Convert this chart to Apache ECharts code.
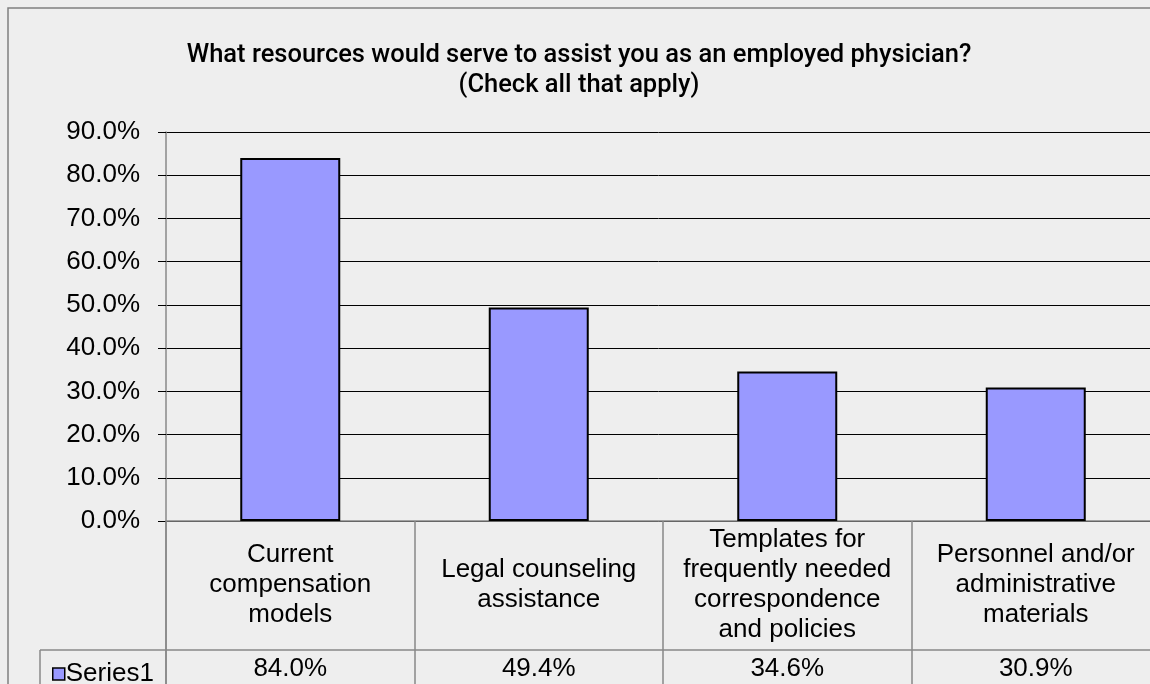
<!DOCTYPE html>
<html>
<head>
<meta charset="utf-8">
<script src="https://cdn.jsdelivr.net/npm/echarts@6/dist/echarts.min.js"></script>
<style>
html,body{margin:0;padding:0;background:#eeeeee;}
#c{width:1150px;height:684px;}
</style>
</head>
<body>
<div id="c"></div>
<script>
var titleText = "What resources would serve to assist you as an employed physician?\n(Check all that apply)";
var categories = [
  "Current\ncompensation\nmodels",
  "Legal counseling\nassistance",
  "Templates for\nfrequently needed\ncorrespondence\nand policies",
  "Personnel and/or\nadministrative\nmaterials"
];
var seriesName = "Series1";
var values = [84.0, 49.4, 34.6, 30.9];
var yTicks = {min: 0, max: 90, interval: 10};

var FONT = "'Liberation Sans', Arial, sans-serif";
var chart = echarts.init(document.getElementById('c'));
chart.setOption({
  backgroundColor: '#eeeeee',
  animation: false,
  title: {
    text: titleText,
    left: 574, top: 36, textAlign: 'center',
    textStyle: {fontFamily: "Roboto, 'Liberation Sans', sans-serif", fontSize: 25.5, fontWeight: 500, color: '#000', lineHeight: 30}
  },
  legend: {
    left: 47, top: 656,
    icon: 'rect', itemWidth: 12, itemHeight: 12, itemGap: 4,
    textStyle: {fontFamily: FONT, fontSize: 26, color: '#000', padding: [0,0,0,-4]},
    itemStyle: {borderColor: '#000', borderWidth: 1.5},
    data: [seriesName]
  },
  grid: {left: 166, top: 132, width: 994, height: 389, containLabel: false, outerBoundsMode: 'none'},
  xAxis: [{
    type: 'category', data: categories, position: 'bottom',
    axisLine: {show: true, lineStyle: {color: '#888', width: 1.5}},
    axisTick: {show: true, length: 170, interval: 0, lineStyle: {color: '#888', width: 1.5}},
    axisLabel: {interval: 0, margin: 64, verticalAlign: 'middle', fontFamily: FONT, fontSize: 26, lineHeight: 30, color: '#000'},
    splitLine: {show: false}
  }, {
    type: 'category', data: values, position: 'bottom', offset: 129,
    axisLine: {show: true, lineStyle: {color: '#888', width: 1.5}},
    axisTick: {show: false},
    axisLabel: {interval: 0, margin: 19, verticalAlign: 'middle', fontFamily: FONT, fontSize: 26, color: '#000',
      formatter: function(v){ return Number(v).toFixed(1) + '%'; }}
  }],
  yAxis: {
    type: 'value', min: yTicks.min, max: yTicks.max, interval: yTicks.interval,
    axisLine: {show: true, lineStyle: {color: '#888', width: 1.5}},
    axisTick: {show: true, length: 8, lineStyle: {color: '#000'}},
    axisLabel: {margin: 26, fontFamily: FONT, fontSize: 26, color: '#000',
      formatter: function(v){ return v.toFixed(1) + '%'; }},
    splitLine: {show: true, lineStyle: {color: '#000', width: 1}}
  },
  series: [{
    name: seriesName, type: 'bar', data: values, barWidth: 100, xAxisIndex: 0,
    itemStyle: {color: '#9999ff', borderColor: '#000', borderWidth: 2}
  }],
  graphic: [
    {type: 'rect', shape: {x: 8, y: 8, width: 1200, height: 800}, style: {fill: 'none', stroke: '#808080', lineWidth: 1.5}, z: -1},
    {type: 'line', shape: {x1: 40, y1: 650, x2: 166, y2: 650}, style: {stroke: '#888', lineWidth: 1.5}},
    {type: 'line', shape: {x1: 40, y1: 650, x2: 40, y2: 700}, style: {stroke: '#888', lineWidth: 1.5}},
    {type: 'line', shape: {x1: 166, y1: 521, x2: 166, y2: 700}, style: {stroke: '#888', lineWidth: 1.5}}
  ]
});
</script>
</body>
</html>
